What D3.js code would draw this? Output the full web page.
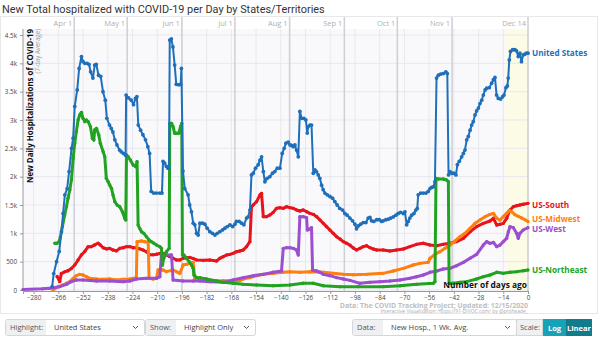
<!DOCTYPE html>
<html><head><meta charset="utf-8">
<script src="https://cdn.jsdelivr.net/npm/d3@7/dist/d3.min.js"></script>
<style>
body{margin:0;background:#fff;font-family:"Open Sans",Roboto,sans-serif;}
svg{display:block}
</style></head><body>
<svg id="c" width="600" height="337"></svg>
<script>
const titleText = "New Total hospitalized with COVID-19 per Day by States/Territories";
const xTicks = [-280,-266,-252,-238,-224,-210,-196,-182,-168,-154,-140,-126,-112,-98,-84,-70,-56,-42,-28,-14,0];
const yTicks = [0,500,1000,1500,2000,2500,3000,3500,4000,4500];
const yTickLabels = ["0","500","1k","1.5k","2k","2.5k","3k","3.5k","4k","4.5k"];
const monthDays = [-257,-227,-196,-166,-135,-104,-74,-43,0];
const monthLabels = ["Apr 1","May 1","Jun 1","Jul 1","Aug 1","Sep 1","Oct 1","Nov 1","Dec 14"];

const usData = [[-269.5,60],[-268.6,290],[-267,500],[-265.5,680],[-264.2,1030],[-263.3,1350],[-262.3,1680],[-261,1790],[-259.9,2090],[-258.5,2500],[-257.6,2680],[-256.7,3240],[-255.3,3530],[-254.2,3910],[-252.9,4120],[-252,4030],[-251,4000],[-249.7,4000],[-248.6,3980],[-247.7,3850],[-246.4,3740],[-245.4,3970],[-244.5,3980],[-243.2,3790],[-242,3770],[-240.7,3500],[-239.4,3350],[-238.5,3030],[-237,2910],[-236,2850],[-235.1,2790],[-234,2650],[-232.8,2560],[-231.3,2470],[-230.4,2440],[-229.1,2410],[-227.9,2380],[-227.6,3440],[-226.2,3390],[-224.7,3350],[-223.4,3270],[-222.3,3380],[-221.5,3410],[-220.7,2910],[-219.4,2820],[-218.1,2740],[-216.6,2650],[-215.3,2530],[-214.3,2410],[-213.4,1740],[-212,1710],[-210.5,1710],[-208.6,1710],[-207.3,1710],[-206.7,2270],[-205.8,2240],[-204.8,2180],[-203.9,2150],[-203.3,2150],[-202.9,4410],[-202,4430],[-201.1,4290],[-200.1,3970],[-199.2,3630],[-197.8,3620],[-196.7,3630],[-196.3,3910],[-195.4,2100],[-194.4,1790],[-192.5,1680],[-191.6,1500],[-190.6,1380],[-189.6,1180],[-188.7,1150],[-187.7,1000],[-186.8,970],[-185.8,1180],[-184.3,1180],[-183,1160],[-181.7,1090],[-180.2,1030],[-178.7,1000],[-177.3,970],[-176,1000],[-174.5,1030],[-173,1060],[-171.7,1090],[-170.3,1120],[-168.8,1150],[-167.3,1120],[-166,1160],[-165.1,1210],[-163.6,1210],[-162.2,1180],[-160.9,1150],[-159.4,1270],[-158.5,1290],[-157.5,1410],[-156.6,2030],[-155.6,2060],[-154.3,2150],[-152.8,2210],[-151.8,2290],[-150.9,2350],[-149.9,2090],[-149,1910],[-147.7,1970],[-146.2,2000],[-144.7,2060],[-143.4,2090],[-142,2150],[-140.5,2150],[-139.2,2410],[-138.1,2500],[-137.1,2590],[-135.8,2610],[-134.8,2560],[-133.9,2550],[-132.9,2530],[-132,2560],[-131.1,2470],[-130.1,2350],[-129.2,3150],[-128.2,3030],[-126.9,3030],[-125.8,3000],[-125,2770],[-124.5,2880],[-123.5,2910],[-122.6,2910],[-121.6,2060],[-120.7,2120],[-119.8,2090],[-118.8,2030],[-117.9,1970],[-116.9,1850],[-116,1770],[-115,1710],[-113.7,1680],[-112.2,1650],[-110.7,1620],[-109.4,1560],[-108.1,1500],[-106.6,1440],[-105,1410],[-103.7,1350],[-102.4,1320],[-100.9,1270],[-99.4,1220],[-98,1160],[-97.1,1080],[-96.1,1130],[-94.8,1160],[-93.3,1190],[-91.8,1190],[-90.5,1270],[-89.5,1280],[-88.6,1220],[-87.3,1210],[-85.7,1240],[-84.2,1240],[-82.9,1210],[-82,1220],[-80.5,1240],[-79.1,1250],[-77.8,1270],[-76.3,1290],[-74.8,1320],[-73.5,1350],[-72.1,1370],[-70.6,1350],[-69.7,1380],[-68.7,1150],[-67.8,1210],[-66.9,1270],[-65.9,1320],[-64.6,1350],[-63.5,1410],[-62.7,1440],[-62.2,1680],[-60.8,1710],[-59.3,1710],[-57.8,1710],[-56.5,1740],[-55.5,1790],[-54.6,1810],[-53.6,1820],[-52.7,1910],[-51.8,3740],[-50.8,3790],[-49.5,3810],[-48,3820],[-46.5,3850],[-45.7,3820],[-45,2030],[-44.2,2090],[-43.2,2060],[-41.9,2060],[-40.8,2030],[-40,2210],[-38.9,2270],[-37.6,2350],[-36.6,2410],[-35.7,2470],[-34.7,2650],[-33.8,2710],[-32.8,2820],[-31.9,2910],[-31,2970],[-30,3090],[-29.1,3160],[-28.1,3210],[-27.2,3290],[-26.2,3350],[-25.3,3440],[-24.3,3530],[-23.4,3560],[-21.9,3570],[-20.6,3650],[-19.6,3710],[-18.7,3750],[-17.8,3440],[-16.8,3380],[-15.5,3370],[-14.4,3410],[-13.6,3440],[-12.5,3570],[-11.7,3600],[-11.2,3740],[-10.6,4060],[-9.9,4210],[-8.7,4240],[-7.4,4240],[-6.5,4220],[-5.5,4120],[-4.6,4180],[-3.7,4030],[-2.7,4150],[-1.8,4160],[-0.9,4180],[0,4180]];

const southData = [[-266.7,240],[-265.2,150],[-264.3,290],[-262.4,320],[-260.5,340],[-258.6,380],[-256.7,440],[-254.8,530],[-252.9,620],[-251,680],[-249.1,765],[-247.3,765],[-245.4,795],[-243.5,825],[-242.2,795],[-240.6,745],[-238.8,725],[-236.9,735],[-235,705],[-233.1,690],[-231.2,735],[-229.3,745],[-227.4,765],[-225.5,765],[-223.6,745],[-221.8,745],[-219.9,725],[-218,705],[-216.1,675],[-214.2,620],[-212.3,620],[-210.4,630],[-208.5,645],[-206.6,645],[-204.8,620],[-202.9,590],[-201,560],[-199.1,530],[-197.2,530],[-195.3,560],[-193.4,570],[-191.5,575],[-189.6,555],[-187.7,530],[-183.9,523],[-180.2,529],[-176.4,512],[-174.5,559],[-172.6,588],[-170.7,618],[-168.8,629],[-167,647],[-165.1,676],[-163.2,688],[-161.3,706],[-159.4,765],[-157.5,853],[-156.6,1470],[-155.6,1500],[-153.7,1559],[-151.8,1676],[-150.9,1706],[-149.9,1294],[-148.1,1294],[-146.2,1324],[-144.3,1370],[-142.4,1441],[-140.5,1453],[-138.6,1441],[-136.7,1470],[-134.8,1453],[-132.9,1441],[-131.1,1412],[-129.2,1394],[-127.3,1412],[-125.4,1382],[-123.5,1353],[-121.6,1335],[-119.7,1294],[-117.8,1235],[-115.9,1176],[-114.1,1118],[-112.2,1059],[-110.3,1000],[-108.4,941],[-106.5,900],[-104.6,853],[-102.7,824],[-100.8,790],[-98.9,740],[-97.1,706],[-95.2,735],[-93.3,765],[-91.4,782],[-89.5,747],[-87.6,723],[-85.7,706],[-82,706],[-78.2,688],[-74.4,706],[-70.6,723],[-66.9,765],[-63.1,806],[-59.3,824],[-55.5,794],[-51.7,782],[-48,806],[-44.2,824],[-40.4,853],[-36.6,912],[-32.8,1029],[-29.1,1118],[-25.3,1176],[-21.5,1218],[-19.6,1265],[-17.7,1147],[-15.8,1159],[-14,1176],[-12.1,1265],[-10.2,1412],[-8.3,1470],[-6.4,1488],[-4.6,1500],[-2.7,1512],[0,1529]];

const midwestData = [[-269,0],[-266.1,59],[-263.3,88],[-261.4,118],[-259.5,147],[-257.6,206],[-255.8,253],[-253.9,276],[-252,265],[-250.1,235],[-248.2,206],[-244.4,194],[-240.6,188],[-236.9,194],[-233.1,176],[-229.3,188],[-225.5,194],[-221.8,218],[-221.4,853],[-218.9,865],[-217,853],[-215.1,841],[-214.6,206],[-212.3,194],[-210.4,206],[-209.5,353],[-206.6,353],[-204.8,324],[-201,353],[-199.1,323],[-197.2,294],[-195.3,441],[-193.4,453],[-191.5,470],[-189.6,488],[-188.7,190],[-186.8,176],[-180.2,165],[-172.6,165],[-163.2,165],[-161.3,194],[-157.5,218],[-153.7,253],[-149.9,276],[-144.3,294],[-138.6,312],[-134.8,323],[-129.2,312],[-123.5,323],[-115.9,312],[-110.3,294],[-104.6,276],[-99,268],[-91.4,276],[-82,294],[-76.3,335],[-70.6,382],[-65,441],[-61.2,470],[-56.5,488],[-55.5,559],[-52.7,629],[-49.9,676],[-47,735],[-44.2,794],[-41.3,865],[-38.5,941],[-35.7,1000],[-32.8,1088],[-30,1176],[-27.2,1235],[-24.3,1294],[-21.5,1335],[-19.6,1353],[-17.7,1265],[-15.8,1235],[-14,1294],[-12.1,1353],[-10.6,1405],[-9.3,1382],[-7.4,1330],[-5.5,1300],[-3.6,1270],[-1.7,1240],[0,1210]];

const westData = [[-286,10],[-275,20],[-270.9,29],[-265.2,59],[-261.4,100],[-258.6,147],[-255.8,176],[-252,176],[-244.4,159],[-236.9,159],[-229.3,147],[-225.5,159],[-221.8,194],[-216.1,206],[-210.4,206],[-208.5,235],[-207.6,618],[-201.9,618],[-201,176],[-195.3,159],[-189.6,159],[-185.8,159],[-180.2,147],[-172.6,135],[-167,176],[-161.3,218],[-155.6,253],[-149.9,276],[-144.3,312],[-139.6,335],[-138.6,735],[-136.7,747],[-134.8,747],[-132.9,735],[-131.1,706],[-130.1,618],[-129.2,1294],[-127.3,1294],[-125.4,1276],[-125,1059],[-123.5,1076],[-122.6,1100],[-122,353],[-119.7,335],[-117.8,312],[-115.9,276],[-112.2,253],[-108.4,218],[-104.6,194],[-100.8,170],[-95.2,118],[-89.5,135],[-83.9,147],[-78.2,159],[-72.5,176],[-66.9,206],[-63.1,235],[-59.3,265],[-55.5,312],[-51.7,335],[-48,371],[-44.2,382],[-40.4,429],[-36.6,488],[-32.8,559],[-29.1,629],[-25.3,794],[-23.4,853],[-21.5,823],[-19.6,841],[-17.7,765],[-15.8,794],[-14,853],[-12.1,912],[-11.1,1029],[-10.2,1118],[-8.3,1100],[-6.4,1000],[-5.5,912],[-4.6,1000],[-2.7,1059],[0,1100]];

const northeastData = [[-268,824],[-266.7,824],[-265.6,853],[-264.8,941],[-263.7,1118],[-262.4,1324],[-261.4,1470],[-260.5,1618],[-259.5,1765],[-258.6,1941],[-257.6,2324],[-256.7,2588],[-255.8,2794],[-254.8,3000],[-253.9,3088],[-252.9,3135],[-252,3029],[-251,2971],[-250.1,3000],[-249.1,2971],[-247.8,2882],[-246.7,2676],[-245.9,2647],[-245.4,2824],[-244.4,2853],[-243.1,2735],[-242.2,2588],[-240.6,2441],[-239.7,2353],[-238.8,1970],[-237.8,1912],[-236.9,1853],[-235.9,1794],[-235,1676],[-234,1559],[-232.7,1500],[-231.2,1470],[-229.7,1382],[-228.4,1265],[-227.8,1235],[-227.4,2382],[-226.5,2353],[-225.2,2294],[-223.6,2206],[-222.1,2176],[-221.4,2265],[-220.8,1147],[-219.9,1088],[-218.9,1029],[-217.6,1000],[-216.1,941],[-214.6,882],[-213.3,853],[-211.9,824],[-210.4,794],[-208.5,765],[-207.6,735],[-207,441],[-206.3,559],[-204.8,676],[-203.2,735],[-202.9,2941],[-201.9,2941],[-201,2882],[-200.1,2765],[-199.1,2765],[-197.8,2765],[-196.8,2882],[-196.1,2941],[-195.7,618],[-194.9,618],[-193.4,559],[-191.9,500],[-190.6,441],[-189.6,382],[-189.2,265],[-187.7,220],[-185.8,218],[-182.1,194],[-176.4,159],[-172.6,135],[-167,118],[-161.3,100],[-153.7,88],[-144.3,76],[-134.8,88],[-127.3,118],[-121.6,118],[-115.9,76],[-106.5,59],[-96.1,59],[-82,59],[-72.5,76],[-63.1,100],[-53.6,118],[-52.7,147],[-52.1,1970],[-50.8,1959],[-48,1959],[-46.1,1941],[-45.1,1912],[-44.7,118],[-42.3,118],[-38.5,135],[-34.7,147],[-29.1,194],[-25.3,235],[-21.5,265],[-17.7,312],[-14,294],[-10.2,312],[-6.4,324],[-2.6,341],[0,353]];

const seriesNames = ["US-South","US-Midwest","US-West","US-Northeast","United States"];
const seriesColors = ["#e8141c","#ff7f0e","#9b4fd0","#21a321","#1f6fba"];
const seriesData = [southData, midwestData, westData, northeastData, usData];
const labelY = [205, 219, 229, 270, 53];

const svg = d3.select("#c");
const L = 23, R = 528, T = 29, B = 291;
const x = d3.scaleLinear().domain([-286, 0]).range([L, R]);
const y = d3.scaleLinear().domain([0, 4500]).range([290, 35]);

// chart frame
svg.append("rect").attr("x",0.5).attr("y",16.5).attr("width",597).attr("height",297)
  .attr("fill","#fff").attr("stroke","#e8e8e8");
svg.append("rect").attr("x",L).attr("y",T).attr("width",R-L).attr("height",B-T).attr("fill","#f9f9fc");
svg.append("rect").attr("x",x(-12.5)).attr("y",T).attr("width",R-x(-12.5)).attr("height",B-T).attr("fill","#fcfce6");

// grids
svg.append("g").selectAll("line").data(yTicks).join("line")
  .attr("x1",L).attr("x2",R).attr("y1",d=>y(d)).attr("y2",d=>y(d))
  .attr("stroke","#e7e7ef").attr("stroke-width",1);
svg.append("g").selectAll("line").data(xTicks).join("line")
  .attr("x1",d=>x(d)).attr("x2",d=>x(d)).attr("y1",T).attr("y2",B)
  .attr("stroke","#e7e7ef").attr("stroke-width",1);
// month lines
svg.append("g").selectAll("line").data(monthDays).join("line")
  .attr("x1",d=>x(d)).attr("x2",d=>x(d)).attr("y1",17).attr("y2",B)
  .attr("stroke","#cfcfd4").attr("stroke-width",1.5);
svg.append("g").selectAll("text").data(monthDays).join("text")
  .attr("x",d=>x(d)-2).attr("y",26).attr("text-anchor","end")
  .attr("font-size",7.5).attr("fill","#b0b0b0").text((d,i)=>monthLabels[i]);

// axes
const xAxis = d3.axisBottom(x).tickValues(xTicks).tickSize(3).tickPadding(1.5).tickFormat(d3.format("d"));
const gx = svg.append("g").attr("transform",`translate(0,${B})`).call(xAxis);
gx.select(".domain").attr("stroke","#999");
gx.selectAll(".tick line").attr("stroke","#999");
gx.selectAll("text").attr("font-size",6.3).attr("fill","#444").attr("font-family","Open Sans, sans-serif");
const yAxis = d3.axisLeft(y).tickValues(yTicks).tickSize(3).tickFormat((d,i)=>yTickLabels[i]);
const gy = svg.append("g").attr("transform",`translate(${L},0)`).call(yAxis);
gy.select(".domain").attr("stroke","#999").attr("d",`M-0,${T}V${B}`);
gy.selectAll(".tick line").attr("stroke","#999");
gy.selectAll("text").attr("font-size",6.3).attr("fill","#444").attr("font-family","Open Sans, sans-serif");

// lines
const line = d3.line().x(d=>x(d[0])).y(d=>y(d[1]));
seriesData.forEach((data,i)=>{
  const isUS = i===4;
  svg.append("path").datum(data).attr("d",line).attr("fill","none")
    .attr("stroke",seriesColors[i]).attr("stroke-width",isUS?2:3)
    .attr("stroke-linejoin","round");
  svg.append("g").selectAll("circle").data(data).join("circle")
    .attr("cx",d=>x(d[0])).attr("cy",d=>y(d[1])).attr("r",isUS?1.9:1.7)
    .attr("fill",seriesColors[i]);
  svg.append("text").attr("x",R+4).attr("y",labelY[i]).attr("dy","0.35em")
    .attr("font-size",8.2).attr("font-weight","bold").attr("fill",seriesColors[i])
    .text(seriesNames[i]);
});

// title and texts
svg.append("text").attr("x",2).attr("y",13).attr("font-size",10.9).attr("font-family","Roboto, sans-serif").attr("fill","#333").text(titleText);
svg.append("text").attr("transform",`translate(32.5,29) rotate(-90)`).attr("text-anchor","end")
  .attr("font-size",7.9).attr("font-weight","bold").attr("fill","#111").text("New Daily Hospitalizations of COVID-19");
svg.append("text").attr("transform",`translate(40,29) rotate(-90)`).attr("text-anchor","end")
  .attr("font-size",6.2).attr("fill","#999").text("(7-day Average)");
svg.append("text").attr("x",527).attr("y",288).attr("text-anchor","end")
  .attr("font-size",8.4).attr("font-weight","bold").attr("fill","#111").text("Number of days ago");
svg.append("text").attr("x",528).attr("y",307.5).attr("text-anchor","end")
  .attr("font-size",6.9).attr("font-weight","bold").attr("fill","#bdbdbd").text("Data: The COVID Tracking Project; Updated: 12/15/2020");
svg.append("text").attr("x",528).attr("y",313.2).attr("text-anchor","end")
  .attr("font-size",5).attr("fill","#aaa").text("Interactive Visualization: https://91-DIVOC.com/ by @profwade_");

// controls
function control(x0, w, lw, label, value){
  const g = svg.append("g");
  g.append("rect").attr("x",x0+0.5).attr("y",319.5).attr("width",w).attr("height",16).attr("rx",2)
    .attr("fill","#fff").attr("stroke","#d6d6d6");
  g.append("rect").attr("x",x0+1).attr("y",320).attr("width",lw).attr("height",15).attr("fill","#eef0f2");
  g.append("text").attr("x",x0+5).attr("y",330).attr("font-size",7.5).attr("fill","#555").text(label);
  g.append("text").attr("x",x0+lw+9).attr("y",330).attr("font-size",7.5).attr("fill","#444").text(value);
  g.append("path").attr("d",`M${x0+w-11},326 l2.5,2.5 l2.5,-2.5`).attr("fill","none").attr("stroke","#555").attr("stroke-width",1);
}
control(5, 139, 40, "Highlight:", "United States");
control(145, 110, 30, "Show:", "Highlight Only");
control(352, 164, 30, "Data:", "New Hosp., 1 Wk. Avg.");
svg.append("rect").attr("x",516.5).attr("y",319.5).attr("width",26).attr("height",16).attr("fill","#eef0f2").attr("stroke","#d6d6d6");
svg.append("text").attr("x",520).attr("y",330).attr("font-size",7.5).attr("fill","#555").text("Scale:");
svg.append("rect").attr("x",543).attr("y",319).attr("width",23).attr("height",17).attr("fill","#17a2b8");
svg.append("rect").attr("x",566).attr("y",319).attr("width",26).attr("height",17).attr("fill","#117a8b");
svg.append("text").attr("x",554.5).attr("y",330.5).attr("text-anchor","middle").attr("font-size",7.5).attr("font-weight","bold").attr("fill","#fff").text("Log");
svg.append("text").attr("x",579).attr("y",330.5).attr("text-anchor","middle").attr("font-size",7.5).attr("font-weight","bold").attr("fill","#fff").text("Linear");
</script>
</body></html>
